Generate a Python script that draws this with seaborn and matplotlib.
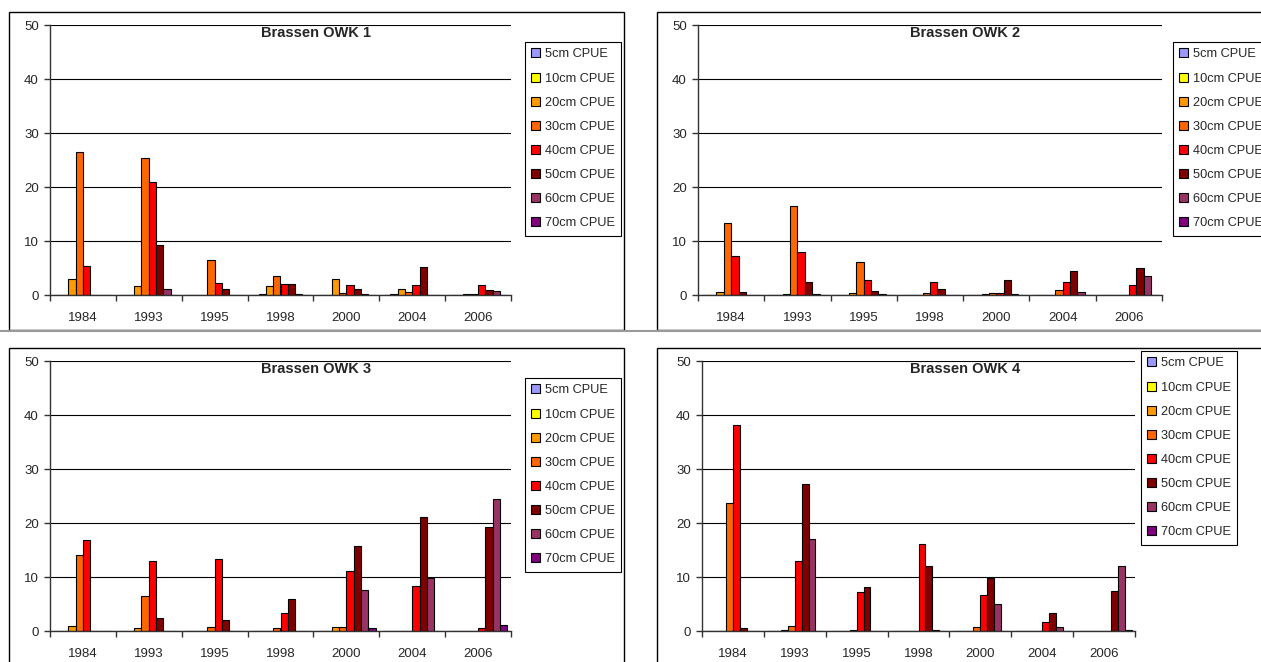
import matplotlib
matplotlib.use('Agg')
import matplotlib.pyplot as plt
import pandas as pd
import seaborn as sns
from matplotlib.patches import Rectangle
from matplotlib.lines import Line2D

# Data (CPUE per length class)
years = ['1984', '1993', '1995', '1998', '2000', '2004', '2006']
classes = ['5cm CPUE', '10cm CPUE', '20cm CPUE', '30cm CPUE',
           '40cm CPUE', '50cm CPUE', '60cm CPUE', '70cm CPUE']
colors = ['#9999FF', '#FFFF00', '#FF9900', '#FF6600',
          '#FF0000', '#800000', '#993366', '#800080']

# rows = years, columns = length classes
owk1 = [[0, 0, 3.0, 26.5, 5.4, 0, 0, 0],
        [0, 0, 1.6, 25.3, 21.0, 9.2, 1.2, 0],
        [0, 0, 0, 6.4, 2.3, 1.2, 0, 0],
        [0, 0.2, 1.7, 3.5, 2.1, 2.1, 0.2, 0],
        [0, 0, 3.0, 0.4, 1.9, 1.2, 0.2, 0],
        [0, 0.2, 1.1, 0.6, 1.9, 5.2, 0, 0],
        [0, 0, 0.2, 0.2, 1.9, 0.9, 0.7, 0]]
owk2 = [[0, 0, 0.6, 13.3, 7.3, 0.6, 0, 0],
        [0, 0, 0.2, 16.4, 8.0, 2.4, 0.2, 0],
        [0, 0, 0.4, 6.1, 2.8, 0.7, 0.2, 0],
        [0, 0, 0, 0.4, 2.5, 1.2, 0, 0],
        [0, 0, 0.2, 0.4, 0.4, 2.8, 0.2, 0],
        [0, 0, 0, 0.9, 2.4, 4.5, 0.6, 0],
        [0, 0, 0, 0, 1.9, 5.0, 3.6, 0]]
owk3 = [[0, 0, 1.0, 14.0, 16.9, 0, 0, 0],
        [0, 0, 0.5, 6.4, 12.9, 2.4, 0, 0],
        [0, 0, 0, 0.7, 13.3, 2.0, 0, 0],
        [0, 0, 0, 0.5, 3.3, 6.0, 0, 0],
        [0, 0, 0.7, 0.7, 11.2, 15.7, 7.6, 0.5],
        [0, 0, 0, 0, 8.3, 21.1, 9.9, 0],
        [0, 0, 0, 0, 0.5, 19.2, 24.4, 1.2]]
owk4 = [[0, 0, 0, 23.7, 38.1, 0.5, 0, 0],
        [0, 0, 0.2, 1.0, 12.9, 27.3, 17.1, 0],
        [0, 0, 0, 0.2, 7.2, 8.1, 0, 0],
        [0, 0, 0, 0, 16.1, 12.1, 0.2, 0],
        [0, 0, 0, 0.7, 6.7, 9.8, 5.0, 0],
        [0, 0, 0, 0, 1.7, 3.3, 0.7, 0],
        [0, 0, 0, 0, 0, 7.4, 12.1, 0.2]]
titles = ['Brassen OWK 1', 'Brassen OWK 2', 'Brassen OWK 3', 'Brassen OWK 4']

W, H = 1261, 662

# pixel layout: axes box, frame box, title centre, legend corner
panels = [
    dict(data=owk1, ax=(50, 25, 511, 295), frame=(9, 12, 624, 330),
         title=(316, 33), leg=(525, 42)),
    dict(data=owk2, ax=(698, 25, 1162, 295), frame=(657, 12, 1290, 330),
         title=(965, 33), leg=(1173, 42)),
    dict(data=owk3, ax=(50, 361, 511, 631), frame=(9, 348, 624, 690),
         title=(316, 369), leg=(525, 378)),
    dict(data=owk4, ax=(702, 361, 1135, 631), frame=(657, 348, 1290, 690),
         title=(965, 369), leg=(1141, 351)),
]

sns.set_style('white')
plt.rcParams['font.family'] = ['Liberation Sans', 'DejaVu Sans']

fig = plt.figure(figsize=(W / 100, H / 100), dpi=100)
fig.patch.set_facecolor('white')

# grey separator between the two rows
fig.add_artist(Line2D([0, 1], [1 - 330.5 / H, 1 - 330.5 / H],
                      transform=fig.transFigure, color='#999999', lw=1.5))


def px_rect(l, t, r, b):
    return [l / W, 1 - b / H, (r - l) / W, (b - t) / H]


for p, title in zip(panels, titles):
    fl, ft, fr, fb = p['frame']
    fig.add_artist(Rectangle((fl / W, 1 - fb / H), (fr - fl) / W, (fb - ft) / H,
                             transform=fig.transFigure, fill=False,
                             edgecolor='black', lw=1.0))

    df = pd.DataFrame(p['data'], index=years, columns=classes)
    df = df.reset_index().melt(id_vars='index', var_name='size', value_name='cpue')
    df = df.rename(columns={'index': 'year'})

    ax = fig.add_axes(px_rect(*p['ax']))
    sns.barplot(data=df, x='year', y='cpue', hue='size', order=years,
                hue_order=classes, palette=colors, saturation=1, width=8 / 9,
                edgecolor='black', linewidth=0.8, ax=ax)

    ax.set_ylim(0, 50)
    ax.set_xlim(-0.5, len(years) - 0.5)
    ax.set_yticks(range(0, 51, 10))
    ax.yaxis.grid(True, color='black', lw=0.8)
    ax.set_axisbelow(True)
    ax.set_xlabel('')
    ax.set_ylabel('')
    for s in ['top', 'right']:
        ax.spines[s].set_visible(False)
    for s in ['left', 'bottom']:
        ax.spines[s].set_color('#333333')
        ax.spines[s].set_linewidth(1.0)
    ax.set_xticks(range(len(years)))
    ax.set_xticks([i - 0.5 for i in range(len(years) + 1)], minor=True)
    ax.tick_params(axis='x', which='major', length=0, labelsize=9.5, pad=12)
    ax.tick_params(axis='x', which='minor', length=4, width=1, color='#333333',
                   direction='out', bottom=True)
    ax.tick_params(axis='y', length=4, width=1, color='#333333', labelsize=9.5,
                   left=True, direction='out', pad=4)

    fig.text(p['title'][0] / W, 1 - p['title'][1] / H, title,
             ha='center', va='center', fontsize=10.5, fontweight='bold')

    handles, labels = ax.get_legend_handles_labels()
    ax.get_legend().remove()
    lx, ly = p['leg']
    leg = fig.legend(handles, labels, loc='upper left',
                     bbox_to_anchor=(lx / W, 1 - ly / H),
                     fontsize=9.2, frameon=True, fancybox=False,
                     edgecolor='black', framealpha=1, borderpad=0.5,
                     labelspacing=0.95, handlelength=0.7, handleheight=0.7,
                     handletextpad=0.35, borderaxespad=0)
    leg.get_frame().set_linewidth(0.8)

fig.savefig('out.png', dpi=100)
